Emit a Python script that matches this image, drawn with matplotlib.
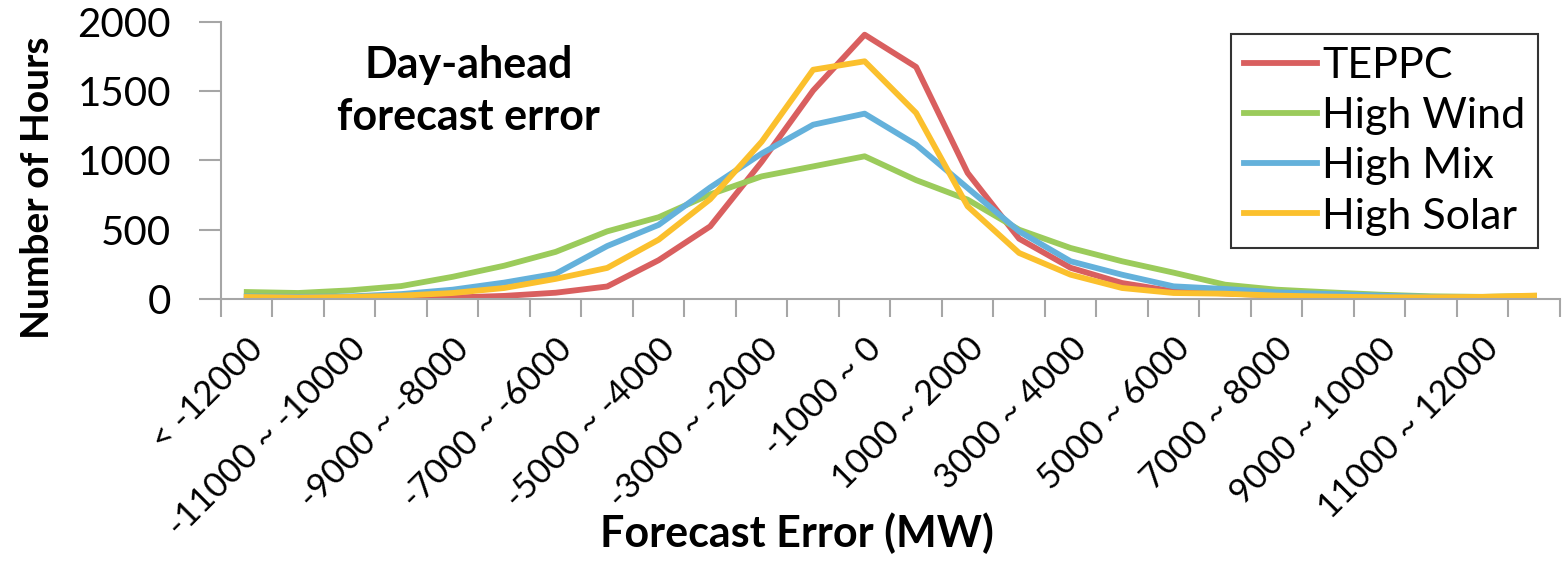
import numpy as np
import matplotlib
matplotlib.use('Agg')
import matplotlib.pyplot as plt

plt.rcParams['font.family'] = ['Lato', 'DejaVu Sans']

# ---- Data ----
bins = ['< -12000'] + [f'{lo} ~ {lo + 1000}' for lo in range(-12000, 12000, 1000)] + ['> 12000']

teppc = [5, 3, 3, 5, 10, 22, 45, 90, 280, 524, 990, 1505, 1908, 1675, 910,
         435, 225, 115, 55, 40, 25, 15, 10, 8, 8, 15]
high_wind = [50, 43, 62, 93, 160, 240, 340, 488, 590, 755, 885, 957, 1030, 858, 717,
             500, 368, 272, 190, 103, 67, 48, 31, 19, 15, 22]
high_mix = [18, 15, 18, 35, 67, 118, 182, 382, 535, 805, 1050, 1258, 1338, 1114, 801,
            488, 272, 175, 91, 72, 48, 36, 24, 15, 12, 15]
high_solar = [14, 10, 14, 24, 43, 79, 145, 224, 428, 720, 1135, 1655, 1716, 1343, 669,
              332, 175, 79, 43, 38, 24, 17, 12, 12, 15, 24]

series = [
    ('TEPPC', teppc, '#D95F5F'),
    ('High Wind', high_wind, '#9BCB5B'),
    ('High Mix', high_mix, '#64B1DB'),
    ('High Solar', high_solar, '#FBC02D'),
]

# ---- Plot ----
fig = plt.figure(figsize=(15.64, 5.63), dpi=100)
ax = fig.add_axes([0.1413, 0.469, 0.856, 0.492])

x = np.arange(len(bins))
for name, vals, col in series:
    ax.plot(x, vals, color=col, linewidth=4.2, label=name)

ax.set_xlim(-0.5, len(bins) - 0.5)
ax.set_ylim(0, 2000)
ax.set_yticks([0, 500, 1000, 1500, 2000])

# labels on every other category, tick marks on category boundaries
ax.set_xticks(x[::2])
ax.set_xticklabels(bins[::2], rotation=45, ha='right', rotation_mode='anchor')
ax.set_xticks(np.arange(-0.5, len(bins)), minor=True)
ax.tick_params(axis='x', which='major', length=0, pad=24, labelsize=25)
ax.tick_params(axis='x', which='minor', length=13, width=1.5, color='#A6A6A6')
ax.tick_params(axis='y', length=16, width=1.5, color='#A6A6A6', labelsize=29, pad=20)

for s in ['top', 'right']:
    ax.spines[s].set_visible(False)
for s in ['left', 'bottom']:
    ax.spines[s].set_color('#A6A6A6')
    ax.spines[s].set_linewidth(1.5)

ax.set_ylabel('Number of Hours', fontsize=28, fontweight='bold')
ax.yaxis.set_label_coords(-0.124, 0.40)
ax.set_xlabel('Forecast Error (MW)', fontsize=31, fontweight='bold')
ax.xaxis.set_label_coords(0.43, -0.77)

ax.text(0.185, 0.75, 'Day-ahead\nforecast error', transform=ax.transAxes,
        ha='center', va='center', fontsize=31, fontweight='bold', linespacing=1.35)

leg = ax.legend(loc='upper right', bbox_to_anchor=(0.984, 0.955), borderaxespad=0,
                fontsize=31, frameon=True, fancybox=False, handlelength=1.7,
                handletextpad=0.12, labelspacing=0.28, borderpad=0.3)
leg.get_frame().set_edgecolor('black')
leg.get_frame().set_linewidth(1.5)

plt.savefig('out.png', dpi=100)
